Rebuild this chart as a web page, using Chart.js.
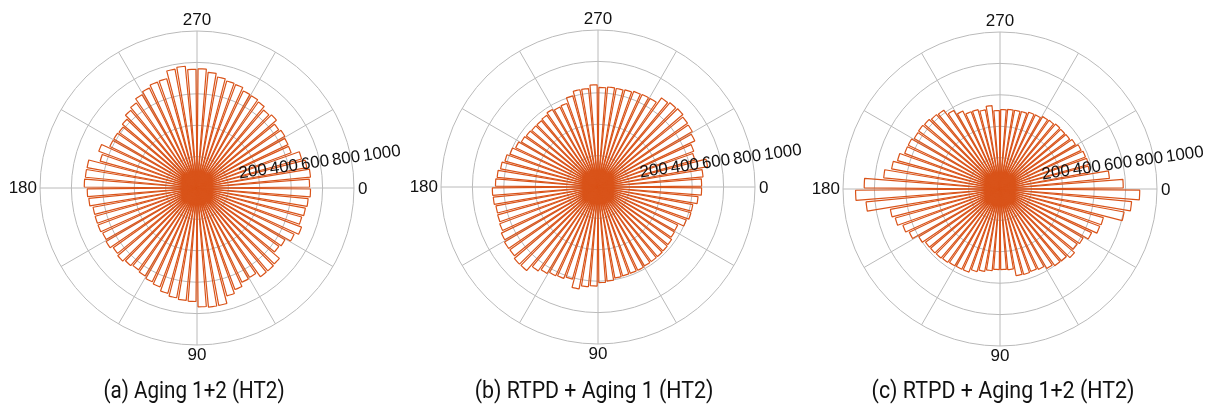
<!DOCTYPE html>
<html>
<head>
<meta charset="utf-8">
<script src="https://cdn.jsdelivr.net/npm/chart.js@4.4.1/dist/chart.umd.min.js"></script>
<style>
html,body{margin:0;padding:0;background:#fff;}
body{width:1211px;height:409px;position:relative;overflow:hidden;}
canvas.pc{position:absolute;}
.cap{position:absolute;top:378px;font-family:Roboto,"Liberation Sans",sans-serif;font-size:23px;line-height:26px;color:#111;white-space:nowrap;}
</style>
</head>
<body>
<canvas id="ca" class="pc" width="460" height="400"></canvas>
<canvas id="cb" class="pc" width="460" height="400"></canvas>
<canvas id="cc" class="pc" width="460" height="400"></canvas>
<div class="cap" id="capA">(a) Aging 1+2 (HT2)</div>
<div class="cap" id="capB">(b) RTPD + Aging 1 (HT2)</div>
<div class="cap" id="capC">(c) RTPD + Aging 1+2 (HT2)</div>
<script>
// Bin start angles (degrees, 5-degree bins, 0 = east, clockwise)
const binAngles = [0,5,10,15,20,25,30,35,40,45,50,55,60,65,70,75,80,85,90,95,100,105,110,115,120,125,130,135,140,145,150,155,160,165,170,175,180,185,190,195,200,205,210,215,220,225,230,235,240,245,250,255,260,265,270,275,280,285,290,295,300,305,310,315,320,325,330,335,340,345,350,355];

// (a) Aging 1+2 (HT2)
const countsA = [723,711,702,692,711,685,650,640,690,694,694,660,665,690,713,760,762,757,
                 723,719,711,696,672,662,650,641,650,664,655,672,665,673,673,673,692,699,
                 718,714,712,640,668,615,615,610,625,650,665,690,705,720,722,770,779,756,
                 759,740,719,707,703,685,682,673,653,665,639,649,642,640,691,711,726,717];
// (b) RTPD + Aging 1 (HT2)
const countsB = [660,640,614,614,600,562,565,576,580,583,583,583,588,587,587,590,602,609,
                 631,638,660,609,621,626,639,657,700,701,689,691,682,668,663,661,670,673,
                 653,645,631,615,598,581,566,560,555,555,561,573,564,568,602,630,630,651,
                 634,640,638,642,650,653,655,697,706,711,700,697,683,651,640,710,672,660];
// (c) RTPD + Aging 1+2 (HT2)
const countsC = [890,842,804,683,678,646,614,604,624,603,600,588,567,560,564,562,516,513,
                 513,522,534,546,565,566,568,574,579,581,583,600,640,660,692,710,857,920,
                 865,744,702,677,648,647,634,637,632,623,617,581,550,525,525,512,534,500,
                 506,510,510,512,522,523,535,537,544,542,545,557,572,581,585,580,700,785];

const radialTicks = [200,400,600,800,1000];
const angleTickValues = [0,90,180,270];
const spokeAngles = [0,30,60,90,120,150,180,210,240,270,300,330];

const ORANGE = '#D95319';
const GRID = '#bababa';
const BAR_DEG = 4.0, GAP_DEG = 1.0;
const RMAX = 1000;

function polarPlugin() {
  return {
    id: 'polarDeco',
    beforeDatasetsDraw(chart) {
      const s = chart.scales.r, ctx = chart.ctx;
      const R = s.getDistanceFromCenterForValue(RMAX);
      ctx.save();
      ctx.strokeStyle = GRID; ctx.lineWidth = 1;
      spokeAngles.forEach(a => {
        const t = a * Math.PI / 180;
        ctx.beginPath();
        ctx.moveTo(s.xCenter, s.yCenter);
        ctx.lineTo(s.xCenter + R * Math.cos(t), s.yCenter + R * Math.sin(t));
        ctx.stroke();
      });
      ctx.restore();
    },
    afterDatasetsDraw(chart) {
      const s = chart.scales.r, ctx = chart.ctx;
      const R = s.getDistanceFromCenterForValue(RMAX);
      const cx = s.xCenter, cy = s.yCenter;
      ctx.save();
      ctx.fillStyle = '#111';
      ctx.font = '17px "Liberation Sans", Arial, sans-serif';
      angleTickValues.forEach(a => {
        const txt = String(a);
        ctx.textBaseline = 'middle';
        if (a === 270) { ctx.textAlign = 'center'; ctx.fillText(txt, cx, cy - R - 11); }
        else if (a === 90) { ctx.textAlign = 'center'; ctx.fillText(txt, cx, cy + R + 10); }
        else if (a === 180) { ctx.textAlign = 'right'; ctx.fillText(txt, cx - R - 3, cy + 0.5); }
        else { ctx.textAlign = 'left'; ctx.fillText(txt, cx + R + 4, cy + 1); }
      });
      // radial tick labels, left-aligned along a line tilted 8 degrees
      const phi = 8 * Math.PI / 180;
      const ux = Math.cos(phi), uy = -Math.sin(phi);
      const nx = -Math.sin(phi), ny = -Math.cos(phi);
      radialTicks.forEach(v => {
        const along = s.getDistanceFromCenterForValue(v) + 12;
        const px = cx + along * ux + 8.3 * nx;
        const py = cy + along * uy + 8.3 * ny;
        ctx.save();
        ctx.translate(px, py);
        ctx.rotate(-phi);
        ctx.textAlign = 'left'; ctx.textBaseline = 'middle';
        ctx.fillText(String(v), 0, 0);
        ctx.restore();
      });
      ctx.restore();
    }
  };
}

function makeChart(id, counts, targetCx, targetCy) {
  const data = [], labels = [];
  counts.forEach((c, i) => { data.push(c); data.push(0); labels.push(String(binAngles[i])); labels.push(''); });
  const canvas = document.getElementById(id);
  const chart = new Chart(canvas, {
    type: 'polarArea',
    data: {
      labels: labels,
      datasets: [{
        data: data,
        backgroundColor: 'rgba(255,255,255,0)',
        borderColor: ORANGE,
        borderWidth: (c) => (c.dataIndex % 2 === 0 ? 1.2 : 0),
        angle: (c) => (c.dataIndex % 2 === 0 ? BAR_DEG : GAP_DEG)
      }]
    },
    options: {
      responsive: false,
      animation: false,
      events: [],
      layout: { padding: { left: 43, right: 103, top: 40, bottom: 46 } },
      plugins: { legend: { display: false }, tooltip: { enabled: false } },
      scales: {
        r: {
          min: 0, max: RMAX,
          startAngle: 90 + GAP_DEG / 2,
          ticks: { display: false, stepSize: 200 },
          grid: { circular: true, color: GRID, lineWidth: 1 },
          angleLines: { display: false },
          pointLabels: { display: false }
        }
      }
    },
    plugins: [polarPlugin()]
  });
  const s = chart.scales.r;
  canvas.style.left = (targetCx - s.xCenter) + 'px';
  canvas.style.top = (targetCy - s.yCenter) + 'px';
  return chart;
}

makeChart('ca', countsA, 197, 188);
makeChart('cb', countsB, 598, 187);
makeChart('cc', countsC, 1000, 189);

function placeCaption(id, centerX, targetW) {
  const el = document.getElementById(id);
  const w = el.offsetWidth;
  el.style.left = centerX + 'px';
  el.style.transform = 'translateX(-50%) scaleX(' + (targetW / w) + ')';
}
function placeAll() {
  placeCaption('capA', 194, 181);
  placeCaption('capB', 594, 239);
  placeCaption('capC', 1003, 263);
}
placeAll();
if (document.fonts && document.fonts.ready) document.fonts.ready.then(placeAll);
</script>
</body>
</html>
